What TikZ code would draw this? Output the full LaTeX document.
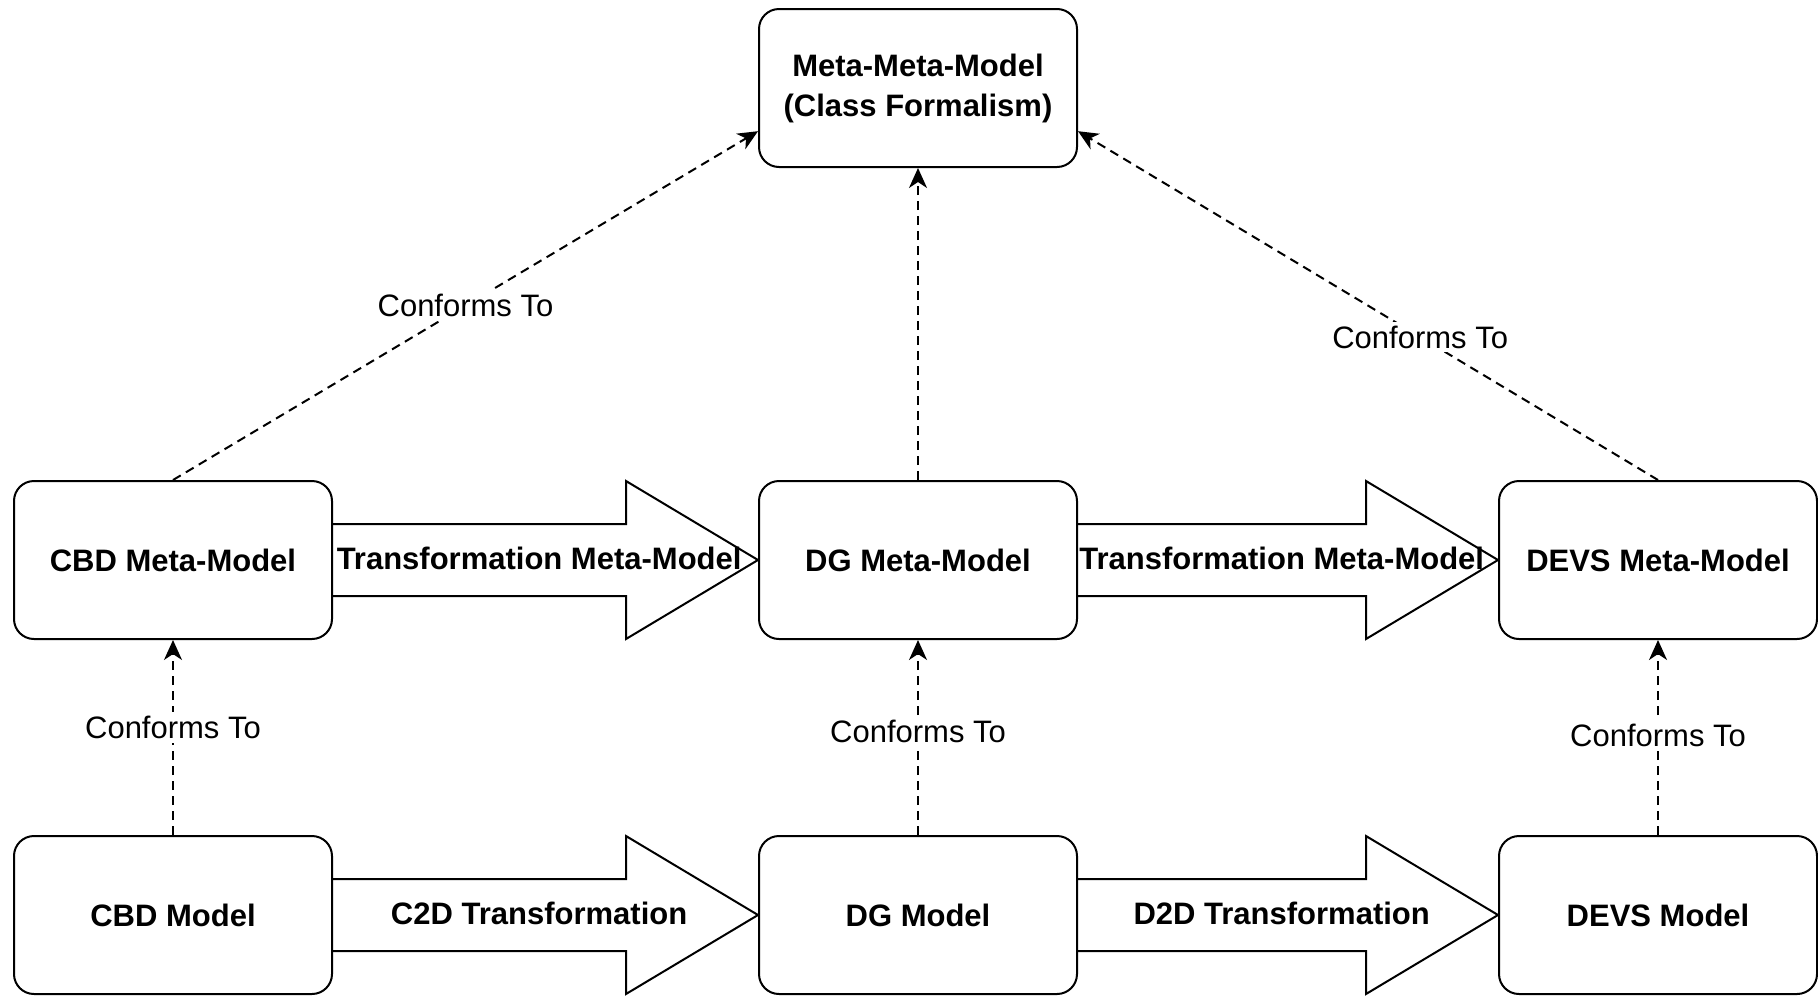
\documentclass[tikz,border=0pt]{standalone}
\usepackage{fontspec}
\setmainfont{Liberation Sans}
\usetikzlibrary{calc,arrows.meta}
\begin{document}
\begin{tikzpicture}[x=0.5pt,y=-0.5pt,
  box/.style={draw, line width=1pt, rounded corners=10pt, minimum width=159pt, minimum height=79pt, inner sep=0pt, align=center, font=\fontsize{15.5}{20}\selectfont\bfseries},
  conf/.style={draw, line width=1pt, dash pattern=on 4.5pt off 3pt, -{Stealth[length=10pt,width=9pt,inset=3pt]}},
  clbl/.style={fill=white, inner sep=2pt, font=\fontsize{15.5}{18.5}\selectfont},
  bigarrow/.style={draw, line width=1pt, line join=miter},
  alabel/.style={inner sep=0pt, font=\fontsize{15.5}{18.5}\selectfont\bfseries}]
\useasboundingbox (0,0) rectangle (1818,996);
\node[box] (mmm) at (918,88) {Meta-Meta-Model\\(Class Formalism)};
\node[box] (cbdmm) at (173,560) {CBD Meta-Model};
\node[box] (dgmm) at (918,560) {DG Meta-Model};
\node[box] (devsmm) at (1658,560) {DEVS Meta-Model};
\node[box] (cbdm) at (173,915) {CBD Model};
\node[box] (dgm) at (918,915) {DG Model};
\node[box] (devsm) at (1658,915) {DEVS Model};
\foreach \a/\b/\t in {cbdmm/dgmm/Transformation Meta-Model, dgmm/devsmm/Transformation Meta-Model, cbdm/dgm/C2D Transformation, dgm/devsm/D2D Transformation}{
  \draw[bigarrow] ($(\a.east)+(0,-36)$) -- ($(\b.west)+(-132,-36)$) -- ($(\b.west)+(-132,-79)$) -- (\b.west) -- ($(\b.west)+(-132,79)$) -- ($(\b.west)+(-132,36)$) -- ($(\a.east)+(0,36)$);
  \node[alabel] (\a-lbl) at ($(\a.east)!0.485!(\b.west)+(0,-2)$) {\t};
}
\draw[conf] (cbdmm.north) -- node[clbl, pos=0.5] (c1) {Conforms To} ($(mmm.north west)!0.77!(mmm.south west)$);
\draw[conf] (devsmm.north) -- node[clbl, pos=0.41] (c2) {Conforms To} ($(mmm.north east)!0.77!(mmm.south east)$);
\draw[conf] (dgmm.north) -- (mmm.south);
\draw[conf] (cbdm.north) -- node[clbl, pos=0.55] (c3) {Conforms To} (cbdmm.south);
\draw[conf] (dgm.north) -- node[clbl, pos=0.53] (c4) {Conforms To} (dgmm.south);
\draw[conf] (devsm.north) -- node[clbl, pos=0.51] (c5) {Conforms To} (devsmm.south);
\end{tikzpicture}
\end{document}
